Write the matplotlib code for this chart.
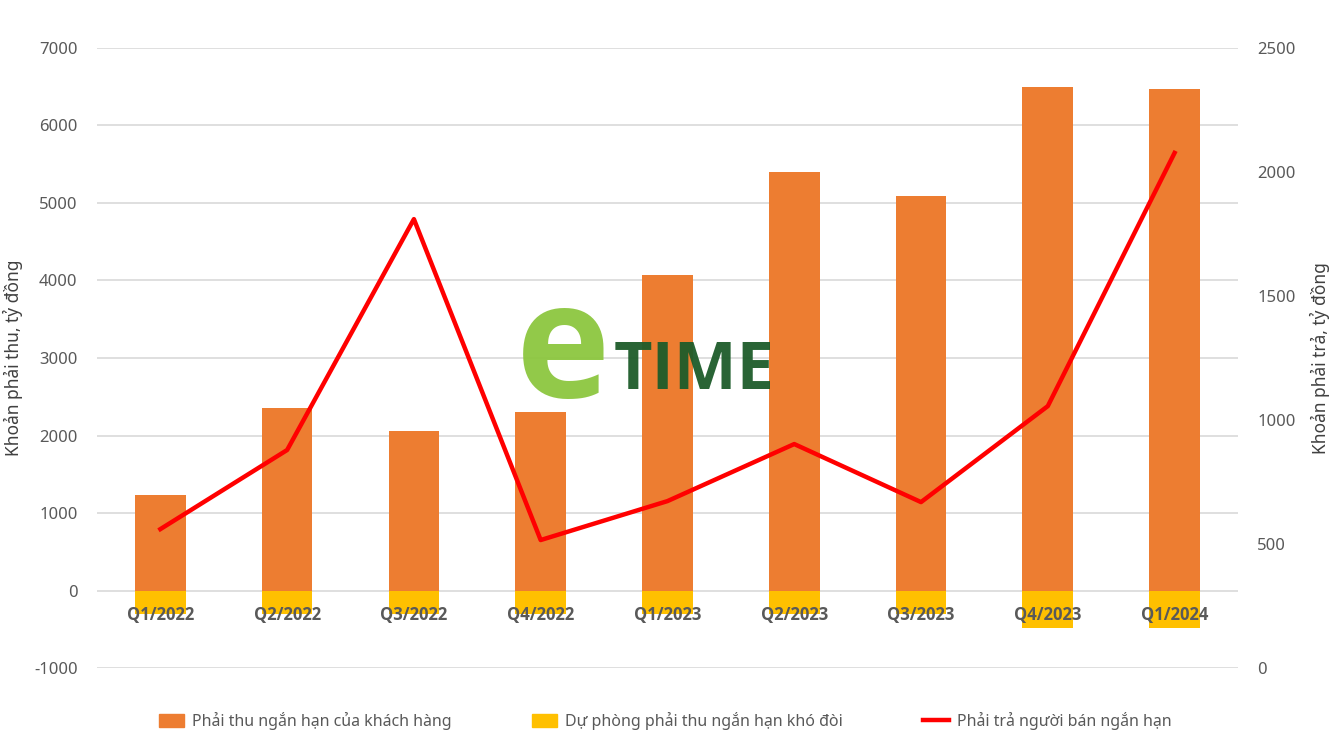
import matplotlib
matplotlib.use("Agg")
import matplotlib.pyplot as plt
from matplotlib.patches import Patch
from matplotlib.lines import Line2D

categories = ["Q1/2022", "Q2/2022", "Q3/2022", "Q4/2022", "Q1/2023",
              "Q2/2023", "Q3/2023", "Q4/2023", "Q1/2024"]
receivables = [1226, 2361, 2052, 2297, 4065, 5406, 5084, 6503, 6465]
provisions = [-300, -300, -300, -300, -300, -300, -300, -490, -490]
payables = [560, 879, 1810, 516, 673, 903, 669, 1056, 2077]

left_ticks = [-1000, 0, 1000, 2000, 3000, 4000, 5000, 6000, 7000]
right_ticks = [0, 500, 1000, 1500, 2000, 2500]

FONT = ["Noto Sans", "DejaVu Sans"]
plt.rcParams["font.family"] = FONT
GRAY = "#595959"

fig = plt.figure(figsize=(13.3, 7.51), dpi=100)
ax = fig.add_axes([0.0729, 0.1105, 0.8579, 0.8256])
ax2 = ax.twinx()

x = list(range(len(categories)))
ax.bar(x, receivables, width=0.4, color="#ED7D31", zorder=2)
ax.bar(x, provisions, width=0.4, color="#FFC000", zorder=2)
ax.set_xlim(-0.5, len(categories) - 0.5)
ax.set_ylim(-1000, 7000)
ax.set_yticks(left_ticks)
ax.set_yticklabels([str(v) for v in left_ticks])
ax.grid(axis="y", color="#d9d9d9", lw=1.2, zorder=0)
ax.set_axisbelow(True)
ax.set_xticks([])
for s in ax.spines.values():
    s.set_visible(False)
ax.tick_params(axis="y", length=0, pad=14, labelsize=12, labelcolor=GRAY)
ax.set_ylabel("Khoản phải thu, tỷ đồng", fontsize=12.5, color="#404040", labelpad=8)

for i, c in enumerate(categories):
    ax.annotate(c, (i, 0), xytext=(0, -11), textcoords="offset points",
                ha="center", va="top", fontsize=12, fontweight="bold",
                family=["Open Sans", "DejaVu Sans"],
                color=GRAY, zorder=5)

ax2.plot(x, payables, color="#FF0000", lw=3.2, zorder=3)
ax2.set_ylim(0, 2500)
ax2.set_yticks(right_ticks)
ax2.set_yticklabels([str(v) for v in right_ticks])
for s in ax2.spines.values():
    s.set_visible(False)
ax2.tick_params(axis="y", length=0, pad=14, labelsize=12, labelcolor=GRAY)
ax2.set_ylabel("Khoản phải trả, tỷ đồng", fontsize=12.5, color="#404040", labelpad=10)

# watermark
fig.text(0.423, 0.527, "e", fontsize=115, fontweight="bold", color="#8cc63f",
         family=["Open Sans", "DejaVu Sans"], ha="center", va="center", alpha=0.95)
fig.text(0.461, 0.505, "TIME", fontsize=48, fontweight="bold", color="#1d5c2a",
         family=["Open Sans", "DejaVu Sans"], ha="left", va="center", alpha=0.95)

handles = [Patch(color="#ED7D31"), Patch(color="#FFC000"),
           Line2D([], [], color="#FF0000", lw=3.2)]
labels = ["Phải thu ngắn hạn của khách hàng", "Dự phòng phải thu ngắn hạn khó đòi",
          "Phải trả người bán ngắn hạn"]
leg = fig.legend(handles, labels, loc="center", bbox_to_anchor=(0.5, 0.04), ncol=3,
                 frameon=False, fontsize=11.5, columnspacing=5.0, handlelength=1.6,
                 handleheight=0.8, handletextpad=0.5)
for t in leg.get_texts():
    t.set_color(GRAY)

fig.savefig("out.png", dpi=100)
